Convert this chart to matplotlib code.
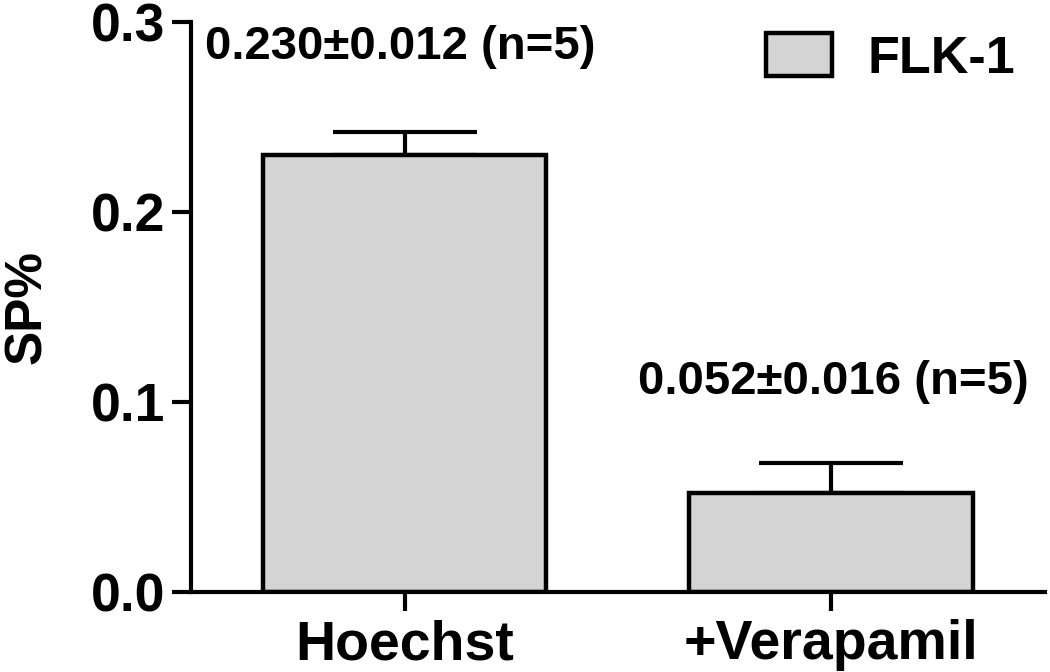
import numpy as np
import matplotlib
matplotlib.use("Agg")
import matplotlib.pyplot as plt

# data
groups = ["Hoechst", "+Verapamil"]
sp_mean = [0.230, 0.052]
sp_sem = [0.012, 0.016]
n_samples = [5, 5]
series_name = "FLK-1"

plt.rcParams["font.family"] = ["Liberation Sans", "DejaVu Sans"]
plt.rcParams["font.weight"] = "bold"

fig = plt.figure(figsize=(10.5, 6.72), dpi=100)
ax = fig.add_axes([0.182, 0.119, 0.813, 0.848])

x = np.arange(len(groups))
bars = ax.bar(x, sp_mean, width=0.665, color="#d4d4d4", edgecolor="black",
              linewidth=3.2, label=series_name, zorder=2)
# only upper error bars, like the prism default
ax.errorbar(x, sp_mean, yerr=[np.zeros(len(sp_sem)), sp_sem], fmt="none",
            ecolor="black", elinewidth=3, capsize=52, capthick=3, zorder=1)

# mean +/- sem labels
label_pos = [(x[0] - 0.01, 0.287), (x[1] + 0.005, 0.1105)]
for (lx, ly), m, s, n in zip(label_pos, sp_mean, sp_sem, n_samples):
    ax.text(lx, ly, f"{m:.3f}\u00b1{s:.3f} (n={n})", ha="center", va="center",
            fontsize=34, fontweight="bold")

ax.set_xlim(-0.5, 1.5)
ax.set_ylim(0, 0.3)
ax.set_yticks([0.0, 0.1, 0.2, 0.3])
ax.set_yticklabels(["0.0", "0.1", "0.2", "0.3"])
ax.set_xticks(x)
ax.set_xticklabels(groups)
ax.set_ylabel("SP%", fontsize=37, fontweight="bold", labelpad=28)

for side in ["top", "right"]:
    ax.spines[side].set_visible(False)
for side in ["left", "bottom"]:
    ax.spines[side].set_linewidth(3)
ax.tick_params(axis="both", width=3, length=13.5, direction="out")
ax.tick_params(axis="y", pad=5, labelsize=38.5)
ax.tick_params(axis="x", pad=6, labelsize=40)

ax.legend(loc="upper right", frameon=False, fontsize=37.5, handlelength=1.26,
          handleheight=0.9, handletextpad=0.68, borderaxespad=0.3,
          bbox_to_anchor=(1.008, 1.045))

fig.savefig("out.png", dpi=100)
